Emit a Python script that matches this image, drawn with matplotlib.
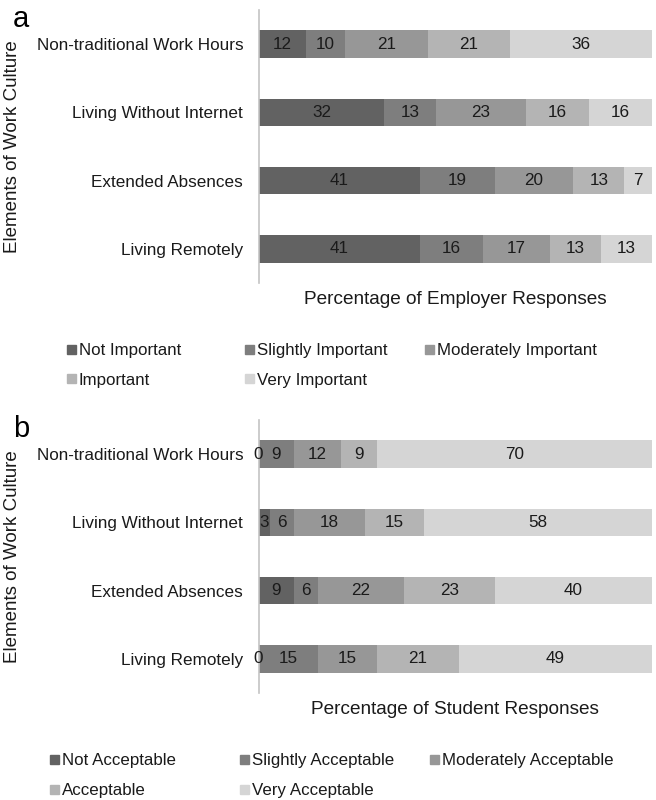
import matplotlib
matplotlib.use('Agg')
import matplotlib.pyplot as plt
from matplotlib.patches import Rectangle

plt.rcParams['font.family'] = ['Liberation Sans', 'DejaVu Sans']

# Données
elements = ['Non-traditional Work Hours', 'Living Without Internet',
            'Extended Absences', 'Living Remotely']

employer_levels = ['Not Important', 'Slightly Important', 'Moderately Important',
                   'Important', 'Very Important']
employer_values = [
    [12, 32, 41, 41],   # Not Important
    [10, 13, 19, 16],   # Slightly Important
    [21, 23, 20, 17],   # Moderately Important
    [21, 16, 13, 13],   # Important
    [36, 16, 7, 13],    # Very Important
]

student_levels = ['Not Acceptable', 'Slightly Acceptable', 'Moderately Acceptable',
                  'Acceptable', 'Very Acceptable']
student_values = [
    [0, 3, 9, 0],       # Not Acceptable
    [9, 6, 6, 15],      # Slightly Acceptable
    [12, 18, 22, 15],   # Moderately Acceptable
    [9, 15, 23, 21],    # Acceptable
    [70, 58, 40, 49],   # Very Acceptable
]

colors = ['#626262', '#7e7e7e', '#979797', '#b4b4b4', '#d5d5d5']

W, H = 656, 800
fig = plt.figure(figsize=(W / 100, H / 100), dpi=100)


def fx(px):
    return px / W


def fy(py):
    return 1 - py / H


def panel(top, bottom, values, levels, xlabel, letter, ylabel_y, leg_rows, leg_cols):
    ax = fig.add_axes([fx(258.5), fy(bottom), fx(652) - fx(258.5), (bottom - top) / H])
    left = [0] * len(elements)
    for vals, lev, col in zip(values, levels, colors):
        bars = ax.barh(elements, vals, left=left, height=0.4, color=col, label=lev)
        ax.bar_label(bars, label_type='center', fontsize=12.3, color='#1a1a1a')
        left = [l + v for l, v in zip(left, vals)]
    ax.set_xlim(0, 100)
    ax.set_ylim(3.5, -0.5)
    ax.set_xticks([])
    ax.tick_params(axis='y', length=0, pad=11, labelsize=12.3, labelcolor='#1a1a1a')
    for s in ['top', 'right', 'bottom']:
        ax.spines[s].set_visible(False)
    ax.spines['left'].set_color('#c4c4c4')
    ax.spines['left'].set_linewidth(1.2)
    ax.set_xlabel(xlabel, fontsize=13.7, color='#1a1a1a')
    ax.xaxis.set_label_coords(fx(455), fy(bottom + 8), transform=fig.transFigure)
    ax.set_ylabel('Elements of Work Culture', fontsize=13.5, color='#1a1a1a')
    ax.yaxis.set_label_coords(fx(21), fy(ylabel_y), transform=fig.transFigure)
    fig.text(fx(13), fy(top + 17), letter, fontsize=21, va='baseline', ha='left')

    # légende en grille 3 colonnes
    for i, (lev, col) in enumerate(zip(levels, colors)):
        r, c = divmod(i, 3)
        x0, y0 = leg_cols[c], leg_rows[r]
        fig.patches.append(Rectangle((fx(x0), fy(y0 + 5)), fx(9), 9 / H,
                                     transform=fig.transFigure, color=col))
        fig.text(fx(x0 + 12), fy(y0 + 6.5), lev, fontsize=12.2, va='baseline',
                 ha='left', color='#1a1a1a')
    return ax


panel(10, 283, employer_values, employer_levels, 'Percentage of Employer Responses',
      'a', 147, [349, 378], [67, 245, 425])
panel(420, 693, student_values, student_levels, 'Percentage of Student Responses',
      'b', 557, [759, 789], [50, 240, 430])

plt.savefig('out.png', dpi=100)
